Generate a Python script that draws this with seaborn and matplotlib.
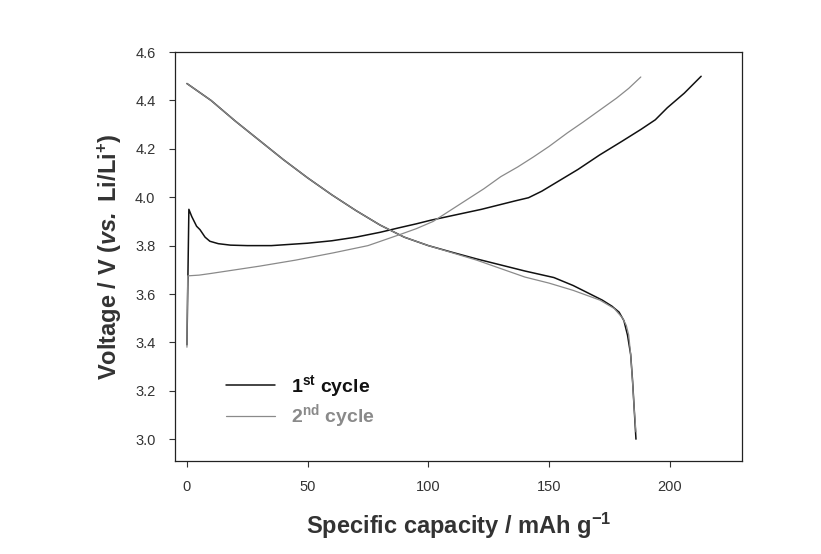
import numpy as np
import pandas as pd
import seaborn as sns
import matplotlib.pyplot as plt

# 1st cycle charge
c1_cap = [0, 0.8, 2, 4, 5.4, 7.5, 9.5, 13, 18, 25, 35, 50, 60, 70, 80, 88, 95, 101, 108, 115, 122, 130, 136, 141.5, 147, 153.5, 162, 171, 180, 188, 194, 199, 206, 213]
c1_volt = [3.39, 3.95, 3.92, 3.88, 3.866, 3.835, 3.818, 3.808, 3.802, 3.80, 3.80, 3.81, 3.82, 3.835, 3.855, 3.874, 3.89, 3.905, 3.92, 3.935, 3.95, 3.97, 3.985, 3.998, 4.025, 4.064, 4.115, 4.175, 4.23, 4.28, 4.32, 4.37, 4.43, 4.50]
# 1st cycle discharge
d1_cap = [0, 10, 20, 30, 40, 50, 60, 70, 80, 90, 100, 110, 120, 130, 140, 152, 160, 167, 172, 176, 179, 181, 182.5, 183.8, 184.6, 185.3, 186]
d1_volt = [4.47, 4.40, 4.315, 4.235, 4.155, 4.08, 4.01, 3.945, 3.885, 3.835, 3.80, 3.772, 3.745, 3.72, 3.695, 3.668, 3.635, 3.60, 3.575, 3.55, 3.525, 3.49, 3.43, 3.35, 3.24, 3.12, 3.0]
# 2nd cycle charge
c2_cap = [0, 0.3, 5, 10, 20, 30, 45, 60.6, 75, 88, 95, 102, 109, 116, 123, 130, 137, 143.6, 150, 157.6, 164, 171, 178, 183, 188]
c2_volt = [3.38, 3.675, 3.678, 3.685, 3.70, 3.715, 3.74, 3.77, 3.80, 3.845, 3.87, 3.90, 3.945, 3.99, 4.035, 4.085, 4.125, 4.167, 4.21, 4.266, 4.31, 4.36, 4.41, 4.45, 4.497]
# 2nd cycle discharge
d2_cap = [0, 10, 20, 30, 40, 50, 60, 70, 80, 90, 100, 110, 120, 130, 140, 150, 160, 171, 177, 180.5, 182, 183, 183.8, 184.6, 185.3, 186]
d2_volt = [4.47, 4.40, 4.315, 4.235, 4.155, 4.08, 4.01, 3.945, 3.885, 3.835, 3.80, 3.77, 3.74, 3.705, 3.67, 3.645, 3.615, 3.575, 3.54, 3.50, 3.47, 3.43, 3.35, 3.235, 3.12, 3.03]

x_ticks = [0, 50, 100, 150, 200]
y_ticks = [3.0, 3.2, 3.4, 3.6, 3.8, 4.0, 4.2, 4.4, 4.6]

sns.set_style("ticks")
plt.rcParams['font.family'] = ['Liberation Sans', 'DejaVu Sans']
plt.rcParams['mathtext.fontset'] = 'custom'
plt.rcParams['mathtext.rm'] = 'Liberation Sans'
plt.rcParams['mathtext.bf'] = 'Liberation Sans:bold'
plt.rcParams['mathtext.it'] = 'Liberation Sans:italic'
plt.rcParams['mathtext.bfit'] = 'Liberation Sans:italic:bold'

fig = plt.figure(figsize=(8.21, 5.54), dpi=100)
ax = fig.add_axes([0.213, 0.168, 0.691, 0.738])

black = "#111111"
grey = "#8a8a8a"

def seg(cap, volt):
    return pd.DataFrame({"cap": cap, "volt": volt})

kw = dict(x="cap", y="volt", sort=False, estimator=None, ax=ax)
sns.lineplot(data=seg(c1_cap, c1_volt), color=black, lw=1.1, label=r"1$^{\mathbf{st}}$ cycle", **kw)
sns.lineplot(data=seg(d1_cap, d1_volt), color=black, lw=1.1, **kw)
sns.lineplot(data=seg(c2_cap, c2_volt), color=grey, lw=0.9, label=r"2$^{\mathbf{nd}}$ cycle", **kw)
sns.lineplot(data=seg(d2_cap, d2_volt), color=grey, lw=0.9, **kw)

ax.set_xlim(-5, 230)
ax.set_ylim(2.91, 4.6)
ax.set_xticks(x_ticks)
ax.set_yticks(y_ticks)
ax.set_yticklabels([f"{v:.1f}" for v in y_ticks])
ax.tick_params(labelsize=10.5, colors="#333333", length=4, width=0.8, pad=10)
for s in ax.spines.values():
    s.set_linewidth(0.9)
    s.set_color("#222222")

ax.set_xlabel(r"Specific capacity / mAh g$^{\mathbf{-1}}$", fontsize=17, fontweight="bold", color="#333333", labelpad=12)
ax.set_ylabel(r"Voltage / V ($\mathbfit{vs.}$ Li/Li$^{\mathbf{+}}$)", fontsize=17, fontweight="bold", color="#333333", labelpad=8)

leg = ax.legend(loc="center left", bbox_to_anchor=(0.06, 0.145), frameon=False, fontsize=14,
                handlelength=2.5, handletextpad=0.8, labelspacing=0.2)
for t, c in zip(leg.get_texts(), [black, grey]):
    t.set_fontweight("bold")
    t.set_color(c)

fig.savefig("out.png", dpi=100)
